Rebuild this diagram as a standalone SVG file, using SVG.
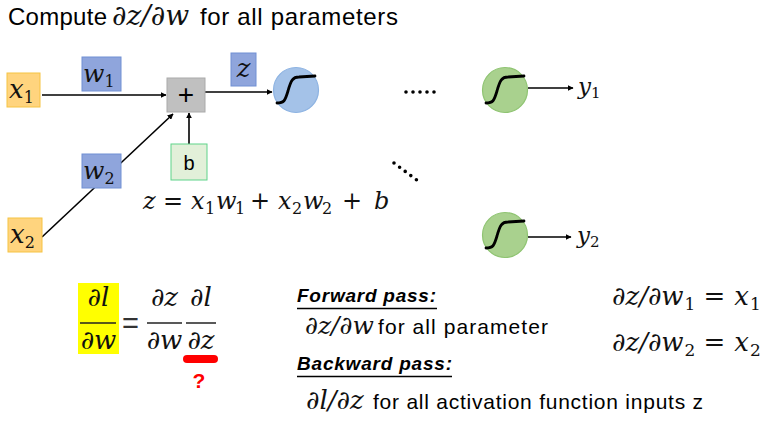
<svg xmlns="http://www.w3.org/2000/svg" width="767" height="426" viewBox="0 0 767 426">
<defs>
<style>
.sans{font-family:"Liberation Sans",Arial,sans-serif;fill:#000}
.m{font-family:"DejaVu Serif","Liberation Serif",serif;font-style:italic;fill:#111}
.r{font-family:"DejaVu Serif","Liberation Serif",serif;font-style:normal}
.blue{fill:#8FA5DC;stroke:#7090D4;stroke-width:1}
.orange{fill:#FFD47E;stroke:#F6C343;stroke-width:1}
.conn{stroke:#000;stroke-width:1.6;fill:none}
.sig{stroke:#000;stroke-width:2.8;fill:none;stroke-linecap:round}
.bar{stroke:#222;stroke-width:1.5}
.dots{stroke:#000;stroke-width:3.6;stroke-linecap:round;stroke-dasharray:0 7;fill:none}
</style>
<marker id="arr" viewBox="0 0 10 10" refX="9" refY="5" markerWidth="6" markerHeight="6" orient="auto" markerUnits="userSpaceOnUse">
<path d="M0,0 L10,5 L0,10 z" fill="#000"/>
</marker>
<path id="sig" class="sig" d="M-19,13 C-12,13 -11,11 -8,1 C-5,-10 -3,-13 3,-13 L19,-14"/>
</defs>
<rect width="767" height="426" fill="#fff"/>

<text x="8" y="25" class="sans" font-size="24"><tspan textLength="99">Compute</tspan><tspan x="112" class="m" font-size="28">∂z/∂w</tspan><tspan x="200" textLength="198">for all parameters</tspan></text>

<g id="connectors">
<line class="conn" x1="42" y1="95" x2="166" y2="95" marker-end="url(#arr)"/>
<line class="conn" x1="205" y1="92" x2="272" y2="92" marker-end="url(#arr)"/>
<line class="conn" x1="189" y1="144" x2="189" y2="113" marker-end="url(#arr)"/>
<line class="conn" x1="42" y1="237" x2="173" y2="114" marker-end="url(#arr)"/>
<line class="conn" x1="528" y1="88" x2="573" y2="88" marker-end="url(#arr)"/>
<line class="conn" x1="528" y1="237" x2="571" y2="237" marker-end="url(#arr)"/>
</g>

<g id="x1"><rect class="orange" x="7" y="73" width="33" height="34"/><text x="9" y="98" class="m" font-size="26">x<tspan class="r" font-size="16" dy="5">1</tspan></text></g>
<g id="w1"><rect class="blue" x="82" y="57" width="39" height="34"/><text x="83" y="82" class="m" font-size="25">w<tspan class="r" font-size="16" dy="5">1</tspan></text></g>
<g id="plus"><rect x="167" y="78" width="38" height="34" fill="#C0C0C0" stroke="#AAAAAA"/><text x="186" y="104" class="sans" font-size="28" text-anchor="middle">+</text></g>
<g id="z"><rect class="blue" x="231" y="53" width="25" height="33"/><text x="243.5" y="77" class="m" font-size="26" text-anchor="middle">z</text></g>
<g id="b"><rect x="171" y="144" width="36" height="36" fill="#E2F0D9" stroke="#5FD38A"/><text x="189" y="170" class="sans" font-size="20" text-anchor="middle">b</text></g>
<g id="w2"><rect class="blue" x="82" y="154" width="39" height="34"/><text x="83" y="179" class="m" font-size="25">w<tspan class="r" font-size="16" dy="5">2</tspan></text></g>
<g id="x2"><rect class="orange" x="8" y="218" width="34" height="34"/><text x="10" y="243" class="m" font-size="26">x<tspan class="r" font-size="16" dy="5">2</tspan></text></g>

<g id="neuron"><circle cx="296" cy="90" r="22.5" fill="#A4C2E8" stroke="#8DB3E2" stroke-width="1.2"/><use href="#sig" x="296" y="90"/></g>
<g id="out1"><circle cx="505" cy="90" r="22.5" fill="#A9D18E" stroke="#8FC472" stroke-width="1.2"/><use href="#sig" x="505" y="90"/><text x="578" y="94" class="m" font-size="23">y<tspan class="r" font-size="15" dy="4">1</tspan></text></g>
<g id="out2"><circle cx="505" cy="235" r="22.5" fill="#A9D18E" stroke="#8FC472" stroke-width="1.2"/><use href="#sig" x="505" y="235"/><text x="577" y="243" class="m" font-size="23">y<tspan class="r" font-size="15" dy="4">2</tspan></text></g>

<path class="dots" d="M406,92 L441,92"/>
<path class="dots" d="M394,163 L422,184"/>

<text y="209" class="m" font-size="24"><tspan x="143">z</tspan><tspan x="163" class="r">=</tspan><tspan x="191">x</tspan><tspan x="205" class="r" font-size="16" dy="5">1</tspan><tspan x="216" dy="-5">w</tspan><tspan x="235" class="r" font-size="16" dy="5">1</tspan><tspan x="250" class="r" dy="-5">+</tspan><tspan x="278">x</tspan><tspan x="292" class="r" font-size="16" dy="5">2</tspan><tspan x="303" dy="-5">w</tspan><tspan x="322" class="r" font-size="16" dy="5">2</tspan><tspan x="342" class="r" dy="-5">+</tspan><tspan x="374">b</tspan></text>

<g id="chain">
<rect x="78" y="283" width="41" height="71" fill="#FFFF00"/>
<text x="98.5" y="306" class="m" font-size="26" text-anchor="middle">∂l</text>
<line class="bar" x1="80" y1="323" x2="116" y2="323"/>
<text x="98.5" y="349" class="m" font-size="26" text-anchor="middle">∂w</text>
<text x="122" y="333" class="sans" font-size="29" style="fill:#333">=</text>
<text x="164.5" y="306" class="m" font-size="26" text-anchor="middle">∂z</text>
<line class="bar" x1="147" y1="323" x2="182" y2="323"/>
<text x="164.5" y="349" class="m" font-size="26" text-anchor="middle">∂w</text>
<text x="201" y="306" class="m" font-size="26" text-anchor="middle">∂l</text>
<line class="bar" x1="186" y1="323" x2="216" y2="323"/>
<text x="201" y="349" class="m" font-size="26" text-anchor="middle">∂z</text>
<rect x="183" y="355" width="35" height="8" rx="4" fill="#FF0000"/>
<text x="199" y="388" font-family="Liberation Sans, Arial, sans-serif" font-size="21" font-weight="bold" fill="#FF0000" text-anchor="middle">?</text>
</g>

<g id="passes">
<text x="297" y="302" class="sans" font-size="19" font-weight="bold" font-style="italic" textLength="139">Forward pass:</text>
<line x1="297" y1="308.5" x2="437" y2="308.5" stroke="#000" stroke-width="1.3"/>
<text x="305" y="334" class="sans" font-size="21"><tspan class="m" font-size="25">∂z/∂w</tspan><tspan x="378" textLength="170">for all parameter</tspan></text>
<text x="297" y="370" class="sans" font-size="19" font-weight="bold" font-style="italic" textLength="155">Backward pass:</text>
<line x1="297" y1="376.5" x2="452" y2="376.5" stroke="#000" stroke-width="1.3"/>
<text x="306" y="409" class="sans" font-size="21"><tspan class="m" font-size="26">∂l/∂z</tspan><tspan x="373" textLength="330">for all activation function inputs z</tspan></text>
</g>

<g id="derivs" class="m" font-size="26">
<text y="305"><tspan x="612">∂z/∂w</tspan><tspan class="r" font-size="17" dx="1" dy="5">1</tspan><tspan class="r" dx="8" dy="-5">=</tspan><tspan dx="9">x</tspan><tspan class="r" font-size="17" dx="1" dy="5">1</tspan></text>
<text y="351"><tspan x="612">∂z/∂w</tspan><tspan class="r" font-size="17" dx="1" dy="5">2</tspan><tspan class="r" dx="8" dy="-5">=</tspan><tspan dx="9">x</tspan><tspan class="r" font-size="17" dx="1" dy="5">2</tspan></text>
</g>
</svg>
